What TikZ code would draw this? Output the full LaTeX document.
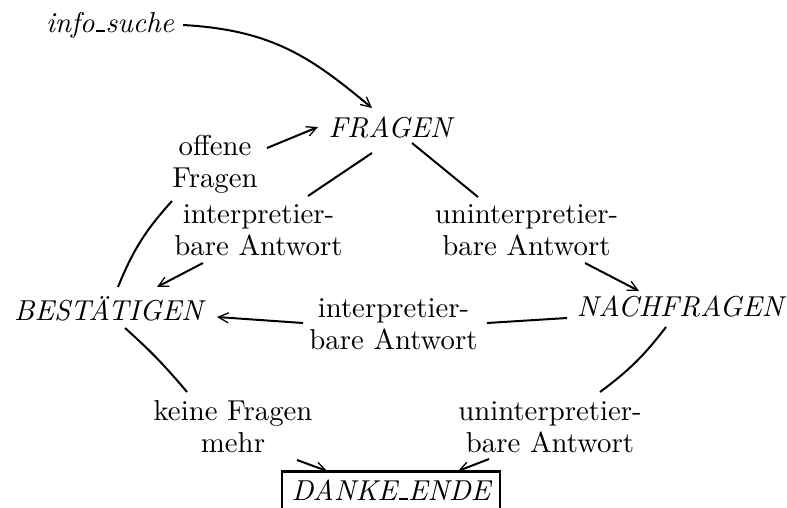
\documentclass[tikz,border=0pt]{standalone}
\usetikzlibrary{arrows.meta}
% two centred lines, baseline on the first one
\newcommand\twoline[2]{\begin{tabular}[t]{@{}c@{}}#1\\#2\end{tabular}}
% short underscore rule in the classic style
\newcommand\uscore{\leavevmode\kern.06em\vbox{\hrule width.3em height.6pt}\kern.02em}
\begin{document}
\begin{tikzpicture}[x=1pt,y=-1pt,
  every node/.style={scale=2.88,inner sep=0pt,anchor=base,
    font=\fontsize{10}{11.11}\selectfont},
  state/.style={font=\fontsize{10}{11.11}\selectfont\itshape},
  finalstate/.style={state,draw,line width=2.3pt,inner xsep=3.3pt,inner ysep=2.7pt,
    text depth=1.5pt},
  link/.style={line width=2pt},
  flow/.style={link,-{Straight Barb[length=10pt,width=10pt,line width=1.3pt]}}]
\useasboundingbox (0,0) rectangle (787,507);
\clip (0,0) rectangle (787,507);

% states and transition labels
\node[state] (info) at (110,32) {info\uscore suche};
\node[state] (FR) at (390,137) {FRAGEN};
\node (OF) at (215,155) {\twoline{offene}{Fragen}};
\node (IL) at (258.5,223) {\twoline{interpretier-}{bare Antwort}};
\node (UR) at (526.5,223) {\twoline{uninterpretier-}{bare Antwort}};
\node[state] (BE) at (108.5,320) {BESTÄTIGEN};
\node (IM) at (393.5,317) {\twoline{interpretier-}{bare Antwort}};
\node[state] (NA) at (680,316) {NACHFRAGEN};
\node (KF) at (233,420) {\twoline{keine Fragen}{mehr}};
\node (UB) at (550,420) {\twoline{uninterpretier-}{bare Antwort}};
\node[finalstate] (DE) at (391,500) {DANKE\uscore ENDE};

% transitions
\draw[flow] ([shift={(73,-7)}]info.base) .. controls +(90,5) and +(-60,-50) .. ([shift={(-18,-29)}]FR.base);
\draw[flow] ([shift={(52,-7)}]OF.base) -- ([shift={(-72,-10)}]FR.base);
\draw[link] ([shift={(9.5,-33)}]BE.base) to[bend left=10] ([shift={(-43,46)}]OF.base);
\draw[link] ([shift={(-18,16)}]FR.base) -- ([shift={(49.5,-27)}]IL.base);
\draw[flow] ([shift={(-55.5,40)}]IL.base) -- ([shift={(48.5,-33)}]BE.base);
\draw[link] ([shift={(22,6)}]FR.base) -- ([shift={(-48.5,-26)}]UR.base);
\draw[flow] ([shift={(58.5,40)}]UR.base) -- ([shift={(-41,-25)}]NA.base);
\draw[link] ([shift={(-113,2)}]NA.base) -- ([shift={(93.5,6)}]IM.base);
\draw[flow] ([shift={(-90.5,6)}]IM.base) -- ([shift={(108.5,-3)}]BE.base);
\draw[link] ([shift={(16.5,8)}]BE.base) to[bend left=4] ([shift={(-46,-28)}]KF.base);
\draw[flow] ([shift={(64,40)}]KF.base) -- ([shift={(-64,-29)}]DE.base);
\draw[link] ([shift={(-14,11)}]NA.base) to[bend left=8] ([shift={(50,-28)}]UB.base);
\draw[flow] ([shift={(-61,39)}]UB.base) -- ([shift={(67,-29)}]DE.base);
\end{tikzpicture}
\end{document}
